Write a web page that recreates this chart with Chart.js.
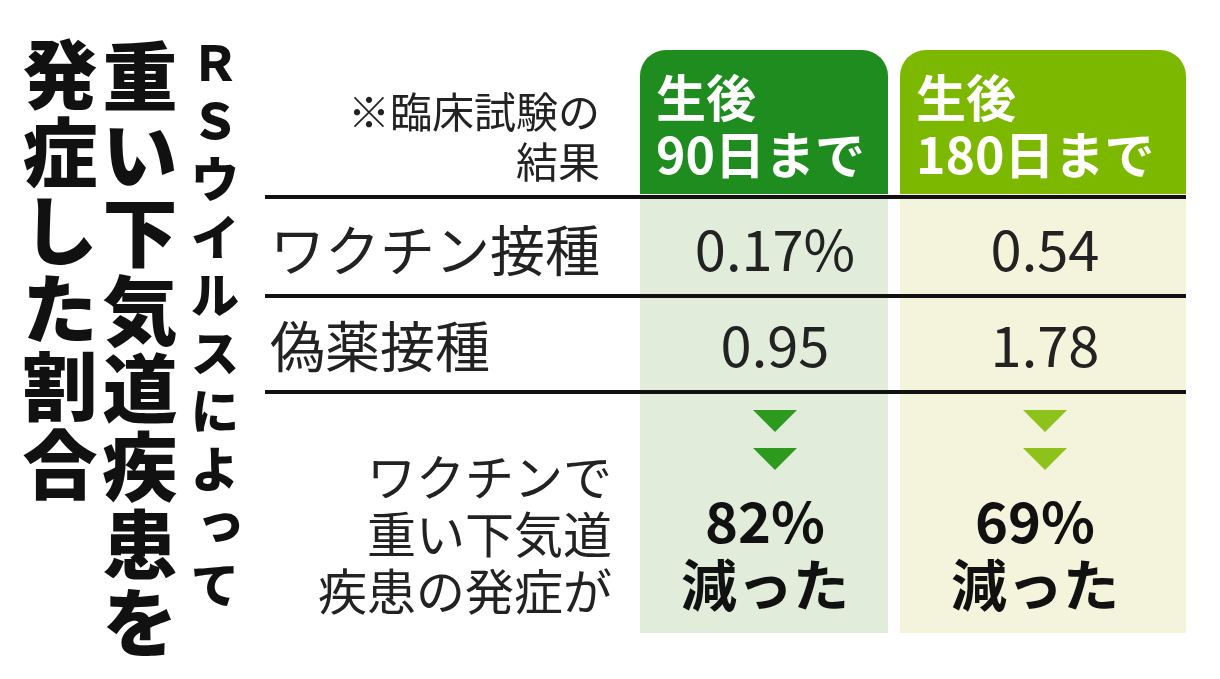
<!DOCTYPE html>
<html><head><meta charset="utf-8">
<script src="https://cdn.jsdelivr.net/npm/chart.js@4/dist/chart.umd.min.js"></script>
<style>html,body{margin:0;padding:0;background:#fff}#wrap{width:1220px;height:679px}</style>
</head><body><div id="wrap"><canvas id="c"></canvas></div>
<script>
// data
const titleColumns = ['ＲＳウイルスによって', '重い下気道疾患を', '発症した割合'];
const noteLines = ['※臨床試験の', '結果'];
const columnHeads = [['生後', '90日まで'], ['生後', '180日まで']];
const rowLabels = ['ワクチン接種', '偽薬接種'];
const vaccineValues = ['0.17%', '0.54'];
const placeboValues = ['0.95', '1.78'];
const resultLines = ['ワクチンで', '重い下気道', '疾患の発症が'];
const reductions = ['82%', '69%'];
const reductionWord = '減った';

const FONT = '"Noto Sans CJK JP", "Noto Sans", sans-serif';
const headColors = ['#1f8c1f', '#7db800'];
const cellColors = ['#e1ecdb', '#f4f3dc'];
const triColors = ['#2d9a1e', '#8cc21a'];
const cols = [[640, 888], [900, 1186]];

const tablePlugin = {
    id: 'table',
    afterDraw: function (chart) {
        const ctx = chart.ctx;
        const X = v => chart.scales.x.getPixelForValue(v);
        const Y = v => chart.scales.y.getPixelForValue(v);
        ctx.save();
        ctx.textBaseline = 'middle';

        // vertical title
        const titleSpec = [[215, 55, 58, 48], [140, 68, 78, 75], [60, 66, 78, 75]];
        titleColumns.forEach(function (txt, i) {
            const s = titleSpec[i];
            ctx.font = '900 ' + s[3] + 'px ' + FONT;
            ctx.fillStyle = '#111';
            ctx.textAlign = 'center';
            Array.from(txt).forEach(function (ch, k) {
                let dx = 0, dy = 0;
                if ('ょっッ'.includes(ch)) { dx = s[3] * 0.12; dy = -s[3] * 0.12; }
                ctx.fillText(ch, X(s[0]) + dx, Y(s[1] + k * s[2] + 8) + dy);
            });
        });

        // cell backgrounds
        cols.forEach(function (c, i) {
            ctx.fillStyle = cellColors[i];
            ctx.fillRect(X(c[0]), Y(197), X(c[1]) - X(c[0]), Y(633) - Y(197));
            ctx.fillStyle = headColors[i];
            ctx.beginPath();
            ctx.roundRect(X(c[0]), Y(50), X(c[1]) - X(c[0]), Y(194) - Y(50), [26, 26, 0, 0]);
            ctx.fill();
            ctx.fillStyle = '#fff';
            ctx.font = 'bold 50px ' + FONT;
            ctx.textAlign = 'left';
            ctx.fillText(columnHeads[i][0], X(c[0] + 16), Y(98));
            ctx.fillText(columnHeads[i][1], X(c[0] + 16), Y(155));
        });

        // rules
        ctx.fillStyle = '#111';
        [197, 296, 392].forEach(function (y) {
            ctx.fillRect(X(265), Y(y) - 2, X(1186) - X(265), 4);
        });

        // note
        ctx.font = '42px ' + FONT;
        ctx.textAlign = 'right';
        ctx.fillStyle = '#222';
        ctx.fillText(noteLines[0], X(600), Y(112));
        ctx.fillText(noteLines[1], X(600), Y(162));

        // rows
        ctx.font = '55px ' + FONT;
        ctx.textAlign = 'left';
        ctx.fillText(rowLabels[0], X(270), Y(250));
        ctx.fillText(rowLabels[1], X(270), Y(346));
        ctx.textAlign = 'center';
        const centers = [775, 1045];
        ctx.font = '56px ' + FONT;
        centers.forEach(function (cx, i) {
            ctx.fillText(vaccineValues[i], X(cx), Y(250));
            ctx.fillText(placeboValues[i], X(cx), Y(346));
        });

        // result text
        ctx.font = '49px ' + FONT;
        ctx.textAlign = 'right';
        resultLines.forEach(function (t, k) {
            ctx.fillText(t, X(612), Y(477 + k * 57));
        });

        // triangles and reductions
        centers.forEach(function (cx, i) {
            ctx.fillStyle = triColors[i];
            [410, 448].forEach(function (ty) {
                ctx.beginPath();
                ctx.moveTo(X(cx - 22), Y(ty));
                ctx.lineTo(X(cx + 22), Y(ty));
                ctx.lineTo(X(cx), Y(ty + 22));
                ctx.closePath();
                ctx.fill();
            });
            ctx.fillStyle = '#111';
            ctx.textAlign = 'center';
            ctx.font = 'bold 56px ' + FONT;
            ctx.fillText(reductions[i], X(cx - 10), Y(522));
            ctx.fillText(reductionWord, X(cx - 10), Y(585));
        });
        ctx.restore();
    }
};

new Chart(document.getElementById('c'), {
    type: 'scatter',
    data: { datasets: [{ data: [] }] },
    options: {
        responsive: true,
        maintainAspectRatio: false,
        animation: false,
        layout: { padding: 0 },
        plugins: { legend: { display: false }, tooltip: { enabled: false } },
        scales: {
            x: { type: 'linear', min: 0, max: 1220, display: false },
            y: { type: 'linear', min: 0, max: 679, reverse: true, display: false }
        }
    },
    plugins: [tablePlugin]
});
</script>
</body></html>
